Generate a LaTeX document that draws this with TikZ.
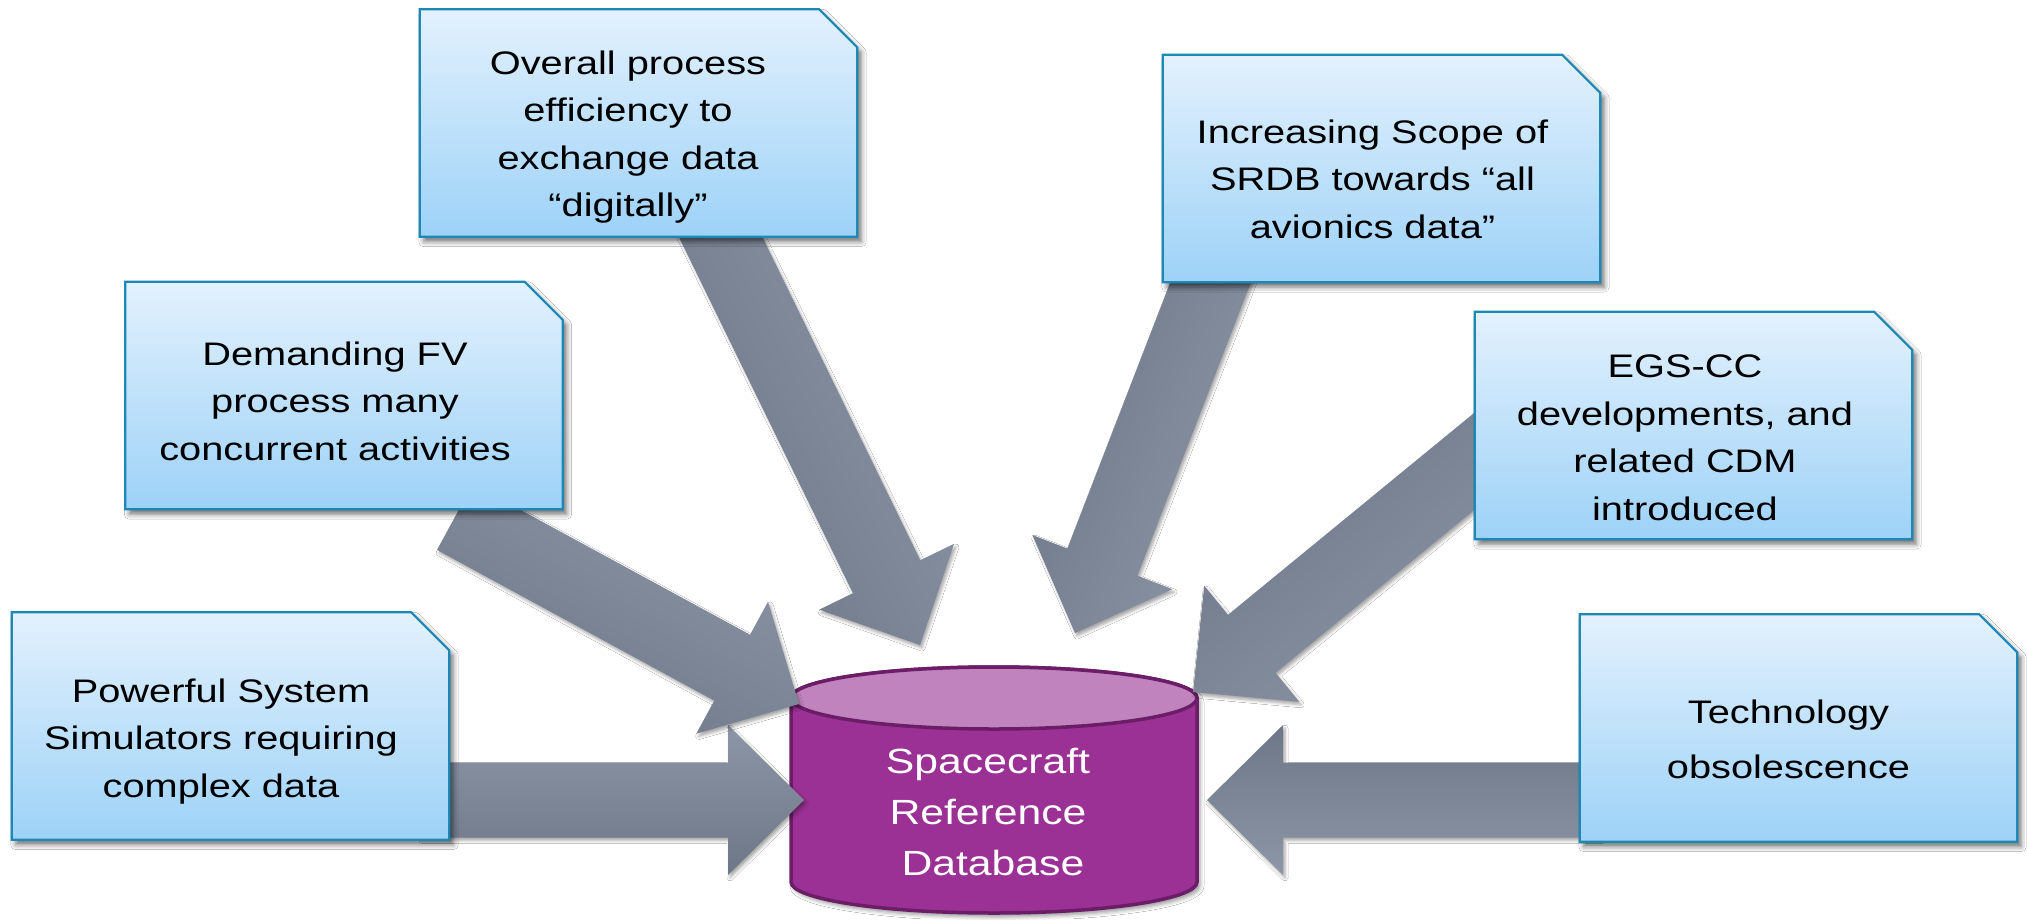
\documentclass[tikz,border=0pt]{standalone}
\usepackage{fontspec}
\usetikzlibrary{calc,shadows.blur}
\newfontfamily\labelfont[FakeStretch=1.22]{Liberation Sans}

\definecolor{notetop}{HTML}{E3F1FD}
\definecolor{notebot}{HTML}{9DD2F7}
\definecolor{noteedge}{HTML}{1B88B5}
\definecolor{arrlight}{HTML}{8C96A6}
\definecolor{arrdark}{HTML}{6D7787}
\definecolor{dbbody}{HTML}{9B3195}
\definecolor{dbcap}{HTML}{C183BE}
\definecolor{dbedge}{HTML}{6B1E67}

\tikzset{
  notebox/.style={draw=none, minimum width=437pt, minimum height=227pt, inner sep=0pt},
  noteshape/.style={draw=noteedge, line width=2.2pt, line join=miter,
    top color=notetop, bottom color=notebot,
    blur shadow={shadow xshift=4pt, shadow yshift=-5pt, shadow blur radius=5pt, shadow opacity=55}},
  notetext/.style={align=center, inner sep=0pt, text=black,
    font=\labelfont\fontsize{32.6pt}{47.5pt}\selectfont},
  bigarrow/.style={top color=arrlight, bottom color=arrdark, shading angle=#1,
    blur shadow={shadow xshift=2pt, shadow yshift=-3pt, shadow blur radius=3pt, shadow opacity=35}},
  dbtext/.style={align=center, inner sep=0pt, text=white,
    font=\labelfont\fontsize{35pt}{51pt}\selectfont},
}

% note card with a clipped upper-right corner, drawn round a named box node
\newcommand\drawnote[1]{%
  \path[noteshape] (#1.north west) -- ([xshift=-38pt]#1.north east)
    -- ([yshift=-38pt]#1.north east) -- (#1.south east) -- (#1.south west) -- cycle;}

% broad block arrow: #1 shading angle, #2 tail, #3 tip
\newcommand\blockarrow[3]{%
  \coordinate (hb) at ($(#3)!76pt!(#2)$);
  \path[bigarrow=#1]
    ($(#2)!37.5pt!90:(#3)$) -- ($(hb)!37.5pt!90:(#3)$) -- ($(hb)!75pt!90:(#3)$)
    -- (#3) -- ($(hb)!75pt!-90:(#3)$) -- ($(hb)!37.5pt!-90:(#3)$)
    -- ($(#2)!37.5pt!-90:(#3)$) -- cycle;}

\begin{document}
\begin{tikzpicture}[x=1pt, y=-1pt]
\fill[white] (0,0) rectangle (2027,919);
\useasboundingbox (0,0) rectangle (2027,919);

% card frames
\node[notebox] (sim) at (230.5,726) {};
\node[notebox] (dem) at (344,395.5) {};
\node[notebox] (ovr) at (638.5,123) {};
\node[notebox] (inc) at (1381.5,168.5) {};
\node[notebox] (egs) at (1693.5,425.5) {};
\node[notebox] (tec) at (1798.5,728) {};

% database cylinder
\coordinate (dbup) at (994,698);
\coordinate (dbdn) at (994,882);
\path[fill=dbbody, draw=dbedge, line width=3.5pt,
      blur shadow={shadow xshift=3pt, shadow yshift=-4pt, shadow blur radius=4pt, shadow opacity=40}]
  ([xshift=-203pt]dbup) -- ([xshift=-203pt]dbdn)
  arc[start angle=180, end angle=360, x radius=203pt, y radius=31pt]
  -- ([xshift=203pt]dbup)
  arc[start angle=0, end angle=180, x radius=203pt, y radius=31pt] -- cycle;
\path[fill=dbcap, draw=dbedge, line width=3.5pt]
  (dbup) ellipse[x radius=203pt, y radius=31pt];
\node[dbtext] (db) at (988,811.5) {Spacecraft\\Reference\\\hspace*{0.28em}Database};

% arrow ends
\coordinate (simout) at (420,800);   \coordinate (simin) at (804,800);
\coordinate (demout) at (455,517);   \coordinate (demin) at (799,704);
\coordinate (ovrout) at (705,205);   \coordinate (ovrin) at (920,645);
\coordinate (incout) at (1220,258);  \coordinate (incin) at (1075,633);
\coordinate (egsout) at (1510,432);  \coordinate (egsin) at (1193,692);
\coordinate (tecout) at (1600,800);  \coordinate (tecin) at (1207,800);

\blockarrow{0}{simout}{simin}
\blockarrow{-28.5}{demout}{demin}
\blockarrow{-64}{ovrout}{ovrin}
\blockarrow{-111.1}{incout}{incin}
\blockarrow{-140.6}{egsout}{egsin}
\blockarrow{180}{tecout}{tecin}

% cards on top of the arrow tails
\drawnote{sim}
\drawnote{dem}
\drawnote{ovr}
\drawnote{inc}
\drawnote{egs}
\drawnote{tec}

\node[notetext] (simtxt) at (221,741.5) {Powerful System\\Simulators requiring\\complex data};
\node[notetext] (demtxt) at (335,401) {Demanding FV\\process many\\concurrent activities};
\node[notetext] (ovrtxt) at (628,137) {Overall process\\efficiency to\\exchange data\\“digitally”};
\node[notetext] (inctxt) at (1372.5,179) {Increasing Scope of\\SRDB towards “all\\avionics data”};
\node[notetext] (egstxt) at (1685,438) {EGS-CC\\developments, and\\related CDM\\introduced};
\node[notetext, font=\labelfont\fontsize{32.6pt}{55pt}\selectfont] (tectxt) at (1788.5,739) {Technology\\obsolescence};
\end{tikzpicture}
\end{document}
